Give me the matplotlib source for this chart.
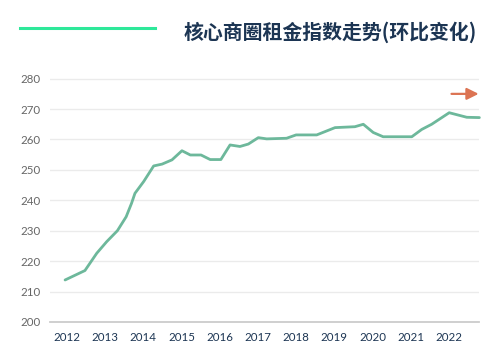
import matplotlib.pyplot as plt
from matplotlib.lines import Line2D

# ── Данные ────────────────────────────────────────────────────────────────────

years = [2011.95, 2012.47, 2012.78, 2013.04, 2013.32, 2013.55, 2013.69, 2013.78,
         2014.01, 2014.27, 2014.49, 2014.75, 2015.01, 2015.23, 2015.51, 2015.75,
         2016.03, 2016.27, 2016.53, 2016.75, 2017.01, 2017.23, 2017.75, 2018.00,
         2018.54, 2019.02, 2019.54, 2019.76, 2020.02, 2020.28, 2021.03, 2021.29,
         2021.55, 2022.01, 2022.47, 2022.80]
index = [213.8, 216.9, 222.6, 226.4, 230.0, 234.6, 239.0, 242.3,
         246.2, 251.3, 251.9, 253.3, 256.3, 254.9, 254.9, 253.4,
         253.4, 258.2, 257.7, 258.5, 260.6, 260.2, 260.4, 261.5,
         261.5, 263.9, 264.2, 265.0, 262.3, 260.9, 260.9, 263.3,
         265.0, 268.8, 267.3, 267.2]

tick_years = list(range(2012, 2023))
y_ticks = [200, 210, 220, 230, 240, 250, 260, 270, 280]
arrow_level = 275
title = "核心商圈租金指数走势(环比变化)"

LINE_COLOR = "#6db89b"
ARROW_COLOR = "#dc7453"
NAVY = "#1c3553"

# ── График ────────────────────────────────────────────────────────────────────

fig = plt.figure(figsize=(5.0, 3.53), dpi=100)
ax = fig.add_axes([0.1, 0.088, 0.858, 0.715])

ax.plot(years, index, color=LINE_COLOR, lw=2.0, solid_joinstyle="round",
        solid_capstyle="round", clip_on=False, zorder=3)

ax.annotate("", xy=(2022.78, arrow_level), xytext=(2022.07, arrow_level),
            arrowprops=dict(arrowstyle="-|>,head_length=0.7,head_width=0.35",
                            color=ARROW_COLOR, lw=1.6, shrinkA=0, shrinkB=0))

ax.set_xlim(2011.555, 2022.79)
ax.set_ylim(200, 283)
ax.set_yticks(y_ticks)
ax.set_xticks(tick_years)
ax.set_xticklabels([str(y) for y in tick_years])

ax.grid(axis="y", color="#ebebeb", lw=1.0)
ax.set_axisbelow(True)
for s in ["top", "right", "left"]:
    ax.spines[s].set_visible(False)
ax.spines["bottom"].set_color("#cccccc")
ax.spines["bottom"].set_linewidth(1.3)

ax.tick_params(axis="both", length=0)
ax.tick_params(axis="y", pad=7, labelsize=8.3, labelcolor="#666666")
ax.tick_params(axis="x", pad=7, labelsize=8.3, labelcolor=NAVY)
for lbl in ax.get_xticklabels() + ax.get_yticklabels():
    lbl.set_family(["Lato", "DejaVu Sans"])

# заголовок и зелёная полоса слева
fig.add_artist(Line2D([20 / 500, 155 / 500], [1 - 28.3 / 353] * 2,
                      color="#2ee89a", lw=2.2, transform=fig.transFigure))
fig.text(477 / 500, 1 - 32 / 353, title, ha="right", va="center",
         fontsize=14.3, fontweight="bold", color=NAVY,
         family=["Noto Sans CJK SC", "DejaVu Sans"])

plt.savefig("out.png", dpi=100)
